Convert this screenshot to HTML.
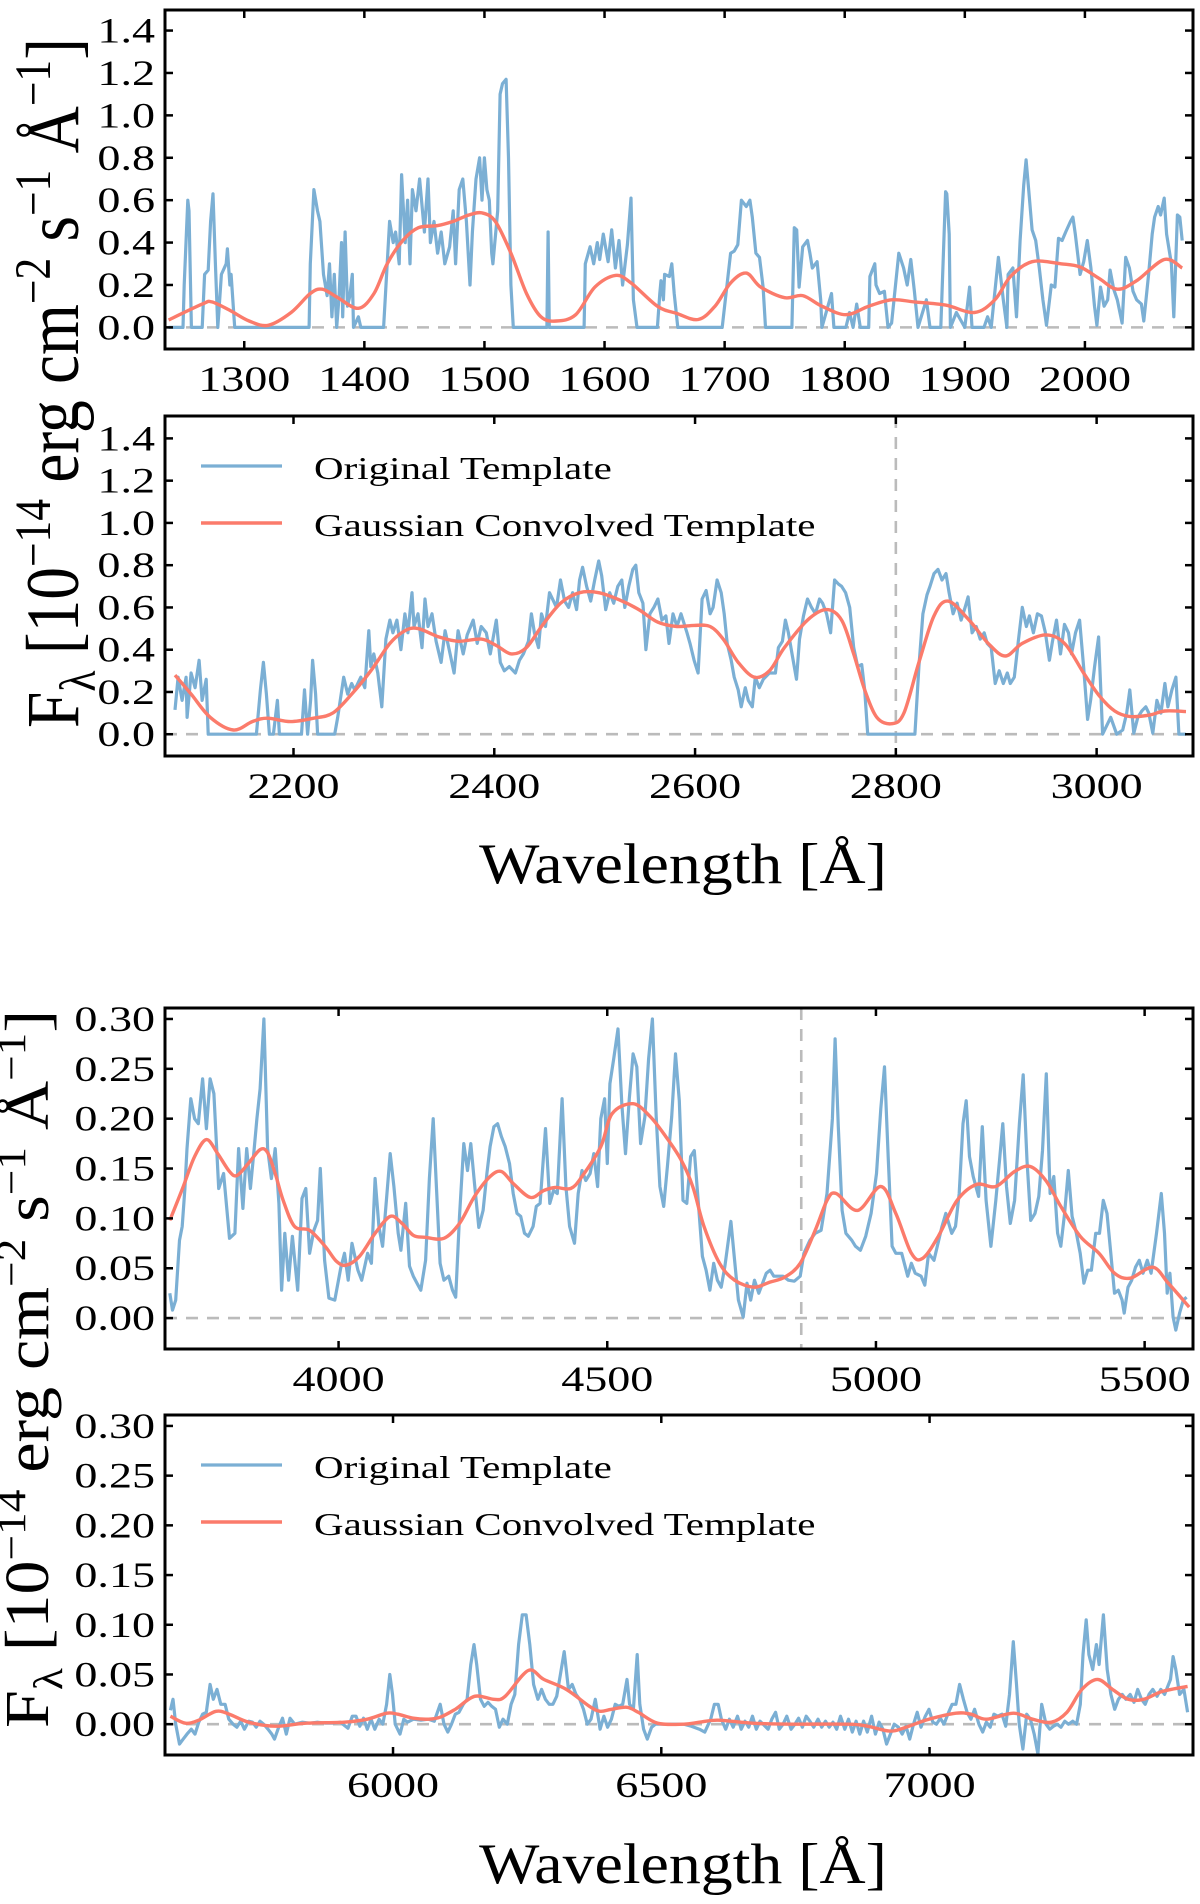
<!DOCTYPE html>
<html><head><meta charset="utf-8"><style>
html,body{margin:0;padding:0;background:#fff;}
svg{display:block;font-family:"Liberation Serif",serif;}
</style></head><body>
<svg id="fig" width="1200" height="1904" viewBox="0 0 1200 1904" xmlns="http://www.w3.org/2000/svg"></svg>
<script>
// ---- Panel 1 data ----
const p1BlueWl=[1237,1249,1250,1253,1254,1256,1265,1267,1270,1272,1274,1276,1278,1281,1285,1286,1288,1289,1292,1354,1355,1358,1361,1363,1366,1369,1371,1373,1375,1377,1379,1381,1382,1384,1386,1388,1390,1391,1395,1397,1416,1421,1424,1426,1429,1431,1434,1436,1438,1440,1443,1446,1450,1453,1455,1458,1461,1464,1467,1471,1474,1476,1479,1482,1485,1488,1490,1493,1496,1498,1500,1502,1504,1506,1507,1511,1513,1515,1518,1520,1522,1524,1552,1553,1554,1583,1584,1588,1591,1594,1596,1599,1603,1606,1609,1612,1615,1619,1622,1624,1627,1644,1646,1647,1649,1650,1654,1656,1658,1661,1698,1705,1708,1711,1714,1718,1721,1723,1726,1729,1732,1734,1756,1758,1760,1762,1765,1769,1771,1773,1777,1780,1781,1789,1791,1801,1804,1807,1810,1813,1820,1821,1825,1826,1829,1833,1836,1839,1845,1849,1852,1855,1858,1861,1868,1871,1880,1884,1885,1887,1888,1893,1900,1904,1906,1916,1919,1922,1928,1932,1935,1936,1940,1943,1946,1949,1951,1953,1956,1959,1962,1965,1968,1972,1975,1978,1981,1984,1988,1990,1992,1996,1999,2002,2005,2008,2010,2013,2016,2019,2021,2024,2027,2031,2034,2037,2040,2043,2047,2049,2053,2056,2058,2061,2063,2066,2068,2072,2074,2077,2079,2081];
const p1BlueFlux=[0,0,0.2,0.6,0.55,0,0,0.25,0.27,0.5,0.63,0.3,0,0.25,0.3,0.37,0.2,0.25,0,0,0.3,0.65,0.55,0.5,0.25,0.15,0.3,0.05,0.25,0,0.15,0.4,0.05,0.45,0.1,0.15,0.25,0,0.05,0,0,0.5,0.4,0.45,0.3,0.72,0.4,0.6,0.3,0.65,0.55,0.7,0.45,0.7,0.4,0.5,0.35,0.45,0.3,0.38,0.55,0.3,0.65,0.7,0.5,0.2,0.45,0.7,0.8,0.6,0.8,0.65,0.6,0.35,0.3,0.55,1.1,1.15,1.17,0.8,0.2,0,0,0.45,0,0,0.3,0.38,0.3,0.4,0.32,0.44,0.31,0.46,0.28,0.41,0.2,0.39,0.61,0.13,0,0,0.16,0.22,0.13,0.25,0.24,0.3,0.16,0,0,0.35,0.36,0.39,0.6,0.57,0.6,0.52,0.35,0.33,0.19,0,0,0.47,0.46,0.19,0.38,0.41,0.35,0.28,0.31,0.13,0,0.16,0,0,0.07,0,0.11,0,0,0.24,0.3,0.2,0.16,0.17,0,0.02,0.35,0.28,0.2,0.32,0.17,0,0.13,0,0,0.64,0.63,0.44,0,0.07,0,0.19,0,0,0.05,0,0.33,0.13,0,0.25,0.28,0.05,0.41,0.67,0.79,0.66,0.46,0.41,0.28,0.13,0.01,0.2,0.19,0.42,0.41,0.45,0.5,0.52,0.44,0.25,0.31,0.41,0.28,0.1,0.01,0.19,0.1,0.13,0.27,0.18,0.13,0.02,0.33,0.28,0.17,0.13,0.11,0.03,0.25,0.44,0.52,0.57,0.53,0.61,0.44,0.3,0.05,0.53,0.52,0.41];
const p1RedWl=[1237,1265,1273,1288,1304,1320,1339,1355,1365,1378,1395,1408,1419,1432,1445,1461,1474,1487,1498,1509,1522,1535,1547,1560,1576,1592,1609,1622,1644,1660,1678,1692,1705,1718,1730,1750,1765,1781,1801,1820,1839,1858,1884,1908,1925,1938,1956,1980,1996,2012,2027,2043,2066,2081];
const p1RedFlux=[0.035,0.11,0.12,0.08,0.03,0.01,0.07,0.16,0.18,0.14,0.09,0.16,0.30,0.41,0.47,0.48,0.50,0.53,0.54,0.50,0.35,0.16,0.05,0.03,0.06,0.19,0.245,0.21,0.10,0.066,0.037,0.10,0.21,0.256,0.19,0.14,0.15,0.10,0.06,0.10,0.13,0.12,0.105,0.07,0.13,0.24,0.31,0.30,0.285,0.23,0.18,0.22,0.32,0.28];
const p1XTicks=[1300,1400,1500,1600,1700,1800,1900,2000];
const p1YTicks=[0,0.2,0.4,0.6,0.8,1.0,1.2,1.4];
const p1YLabels=["0.0","0.2","0.4","0.6","0.8","1.0","1.2","1.4"];
// ---- Panel 2 data ----
const p2BlueWl=[2082,2085,2089,2093,2094,2098,2102,2106,2109,2113,2115,2163,2167,2170,2173,2176,2180,2184,2186,2208,2211,2214,2217,2219,2222,2224,2241,2244,2250,2254,2258,2261,2267,2271,2275,2277,2280,2284,2288,2292,2296,2299,2303,2307,2311,2314,2318,2320,2324,2328,2331,2334,2338,2342,2347,2351,2356,2360,2364,2369,2373,2379,2383,2387,2392,2396,2402,2406,2410,2415,2421,2425,2429,2434,2437,2440,2444,2447,2451,2455,2459,2462,2466,2470,2474,2478,2482,2485,2488,2492,2496,2500,2504,2507,2511,2515,2519,2523,2527,2530,2534,2538,2541,2544,2548,2551,2555,2559,2563,2567,2571,2574,2578,2582,2586,2592,2595,2599,2603,2607,2611,2615,2618,2622,2626,2629,2632,2636,2639,2643,2646,2650,2653,2657,2660,2664,2668,2674,2680,2683,2687,2690,2693,2697,2701,2704,2708,2712,2716,2720,2724,2727,2731,2735,2739,2743,2746,2750,2754,2758,2762,2766,2769,2772,2819,2823,2827,2831,2834,2838,2842,2846,2850,2853,2857,2861,2865,2869,2872,2876,2880,2884,2888,2891,2895,2899,2903,2907,2911,2914,2918,2922,2926,2930,2933,2937,2941,2945,2949,2953,2956,2960,2964,2968,2972,2975,2979,2983,2987,2991,2994,2998,3002,3006,3014,3020,3026,3030,3033,3037,3041,3045,3049,3052,3056,3060,3064,3068,3071,3075,3079,3082,3089];
const p2BlueFlux=[0.115,0.27,0.16,0.27,0.08,0.29,0.22,0.35,0.16,0.26,0,0,0.21,0.34,0.19,0,0,0.16,0,0,0.21,0,0.16,0.35,0.19,0,0,0.08,0.27,0.19,0.24,0.21,0.27,0.22,0.49,0.32,0.38,0.29,0.13,0.45,0.54,0.48,0.54,0.40,0.57,0.48,0.67,0.51,0.57,0.41,0.64,0.51,0.57,0.44,0.34,0.49,0.38,0.29,0.49,0.38,0.47,0.54,0.43,0.51,0.48,0.38,0.54,0.34,0.30,0.32,0.29,0.35,0.38,0.44,0.57,0.48,0.41,0.57,0.51,0.67,0.63,0.60,0.73,0.63,0.60,0.67,0.59,0.73,0.79,0.70,0.63,0.73,0.82,0.75,0.59,0.67,0.62,0.70,0.73,0.60,0.70,0.78,0.80,0.67,0.62,0.40,0.57,0.60,0.64,0.54,0.56,0.43,0.57,0.51,0.57,0.48,0.43,0.35,0.29,0.64,0.68,0.57,0.60,0.73,0.67,0.57,0.43,0.35,0.27,0.21,0.13,0.22,0.16,0.13,0.27,0.22,0.26,0.29,0.29,0.41,0.44,0.54,0.48,0.37,0.26,0.45,0.56,0.64,0.60,0.57,0.64,0.62,0.57,0.48,0.73,0.71,0.70,0.67,0.60,0.41,0.32,0.33,0.21,0,0,0.32,0.57,0.66,0.70,0.76,0.78,0.73,0.76,0.67,0.57,0.62,0.54,0.60,0.65,0.48,0.51,0.45,0.48,0.43,0.41,0.24,0.30,0.24,0.29,0.24,0.27,0.44,0.60,0.51,0.56,0.48,0.57,0.56,0.48,0.35,0.44,0.54,0.38,0.52,0.48,0.38,0.48,0.54,0.32,0.07,0.16,0.32,0.46,0,0.08,0,0.02,0.10,0.21,0.005,0.08,0.11,0.13,0.10,0.005,0.16,0.10,0.24,0.13,0.21,0.27,0,0];
const p2RedWl=[2082,2098,2117,2140,2159,2174,2197,2220,2239,2258,2277,2296,2311,2324,2345,2364,2387,2402,2417,2432,2447,2466,2485,2504,2525,2544,2563,2582,2599,2615,2628,2643,2659,2674,2689,2712,2731,2746,2758,2769,2781,2796,2808,2823,2838,2852,2873,2892,2909,2926,2949,2968,2987,3003,3018,3033,3052,3068,3089];
const p2RedFlux=[0.28,0.19,0.08,0.02,0.06,0.076,0.06,0.076,0.10,0.19,0.30,0.43,0.49,0.50,0.46,0.44,0.45,0.42,0.38,0.41,0.51,0.62,0.67,0.67,0.635,0.59,0.53,0.51,0.515,0.51,0.45,0.34,0.27,0.30,0.41,0.54,0.59,0.54,0.38,0.21,0.08,0.05,0.10,0.34,0.56,0.63,0.54,0.43,0.37,0.43,0.47,0.43,0.29,0.18,0.11,0.084,0.09,0.11,0.107];
const p2XTicks=[2200,2400,2600,2800,3000];
// ---- Panel 3 data ----
const p3BlueWl=[3686,3691,3697,3704,3709,3714,3718,3725,3732,3739,3747,3754,3761,3768,3777,3786,3797,3807,3814,3822,3829,3836,3843,3848,3854,3861,3868,3875,3882,3889,3894,3900,3907,3914,3924,3932,3939,3946,3954,3961,3966,3974,3982,3993,4004,4011,4018,4025,4036,4043,4054,4061,4068,4075,4082,4089,4096,4103,4111,4116,4125,4132,4139,4146,4153,4162,4169,4176,4182,4189,4196,4205,4212,4218,4225,4233,4240,4246,4253,4261,4269,4276,4282,4289,4296,4303,4310,4318,4325,4332,4339,4346,4353,4362,4368,4375,4385,4393,4400,4407,4416,4423,4430,4439,4446,4453,4460,4468,4475,4482,4488,4495,4500,4505,4512,4520,4527,4534,4541,4548,4555,4562,4570,4577,4584,4591,4598,4605,4612,4620,4627,4634,4641,4648,4655,4662,4670,4677,4684,4691,4698,4705,4712,4719,4730,4737,4744,4753,4760,4767,4774,4782,4789,4796,4803,4810,4817,4827,4837,4848,4859,4866,4877,4887,4898,4909,4919,4924,4930,4937,4944,4955,4962,4971,4981,4991,5001,5009,5016,5023,5030,5037,5048,5059,5066,5073,5084,5091,5098,5108,5123,5130,5141,5148,5155,5162,5168,5174,5181,5191,5198,5205,5214,5223,5230,5236,5243,5250,5258,5267,5274,5281,5288,5296,5303,5310,5317,5324,5331,5338,5344,5351,5358,5365,5373,5380,5387,5394,5401,5409,5416,5423,5430,5437,5444,5451,5458,5462,5469,5476,5483,5490,5497,5505,5512,5522,5531,5537,5542,5547,5553,5558,5565,5572,5578];
const p3BlueFlux=[0.025,0.008,0.018,0.078,0.092,0.13,0.17,0.22,0.20,0.195,0.24,0.19,0.24,0.225,0.13,0.145,0.08,0.085,0.17,0.11,0.17,0.13,0.17,0.20,0.23,0.30,0.17,0.14,0.17,0.115,0.028,0.085,0.038,0.082,0.028,0.12,0.13,0.065,0.088,0.098,0.15,0.058,0.02,0.018,0.05,0.065,0.038,0.075,0.048,0.038,0.065,0.055,0.14,0.092,0.072,0.118,0.165,0.132,0.085,0.068,0.115,0.052,0.042,0.035,0.028,0.058,0.14,0.20,0.132,0.055,0.038,0.042,0.028,0.021,0.102,0.175,0.148,0.175,0.135,0.091,0.108,0.145,0.172,0.192,0.195,0.182,0.172,0.155,0.125,0.105,0.102,0.085,0.082,0.092,0.112,0.115,0.19,0.115,0.128,0.125,0.22,0.132,0.092,0.075,0.125,0.148,0.138,0.145,0.165,0.132,0.20,0.22,0.155,0.235,0.26,0.29,0.215,0.165,0.22,0.265,0.252,0.175,0.202,0.26,0.30,0.202,0.132,0.112,0.152,0.202,0.265,0.218,0.118,0.115,0.162,0.168,0.112,0.062,0.048,0.028,0.055,0.038,0.031,0.052,0.097,0.058,0.018,0.001,0.035,0.018,0.038,0.025,0.035,0.045,0.048,0.042,0.042,0.042,0.038,0.037,0.042,0.065,0.078,0.085,0.088,0.125,0.20,0.28,0.192,0.108,0.085,0.078,0.072,0.068,0.082,0.105,0.145,0.21,0.252,0.159,0.072,0.065,0.065,0.042,0.055,0.045,0.042,0.033,0.065,0.058,0.092,0.105,0.085,0.092,0.125,0.195,0.218,0.162,0.142,0.122,0.192,0.118,0.072,0.118,0.158,0.195,0.132,0.095,0.118,0.195,0.244,0.158,0.098,0.105,0.122,0.168,0.245,0.125,0.142,0.085,0.072,0.105,0.148,0.102,0.085,0.065,0.035,0.048,0.048,0.085,0.085,0.118,0.105,0.065,0.025,0.028,0.018,0.005,0.031,0.038,0.051,0.058,0.045,0.058,0.045,0.085,0.125,0.085,0.025,0.045,0.001,-0.012,0.005,0.018,0.021];
const p3RedWl=[3686,3711,3732,3754,3775,3797,3811,3832,3854,3868,3882,3897,3918,3946,3975,3996,4014,4039,4068,4096,4118,4139,4161,4196,4225,4253,4282,4303,4325,4357,4382,4403,4432,4453,4488,4509,4548,4580,4609,4637,4659,4680,4709,4737,4773,4802,4830,4859,4887,4909,4926,4966,5009,5037,5066,5087,5116,5151,5187,5223,5258,5287,5316,5344,5380,5415,5444,5473,5515,5544,5583];
const p3RedFlux=[0.098,0.132,0.162,0.179,0.165,0.147,0.143,0.155,0.169,0.166,0.145,0.118,0.092,0.088,0.072,0.057,0.053,0.062,0.085,0.102,0.095,0.083,0.081,0.08,0.095,0.122,0.142,0.147,0.135,0.121,0.128,0.131,0.13,0.142,0.172,0.205,0.215,0.202,0.182,0.159,0.132,0.092,0.055,0.038,0.031,0.036,0.041,0.055,0.088,0.118,0.125,0.108,0.132,0.105,0.065,0.06,0.082,0.118,0.134,0.132,0.147,0.152,0.138,0.112,0.082,0.065,0.045,0.04,0.051,0.035,0.011];
const p3XTicks=[4000,4500,5000,5500];
const p3YTicks=[0,0.05,0.10,0.15,0.20,0.25,0.30];
const p3YLabels=["0.00","0.05","0.10","0.15","0.20","0.25","0.30"];
// ---- Panel 4 data ----
const p4BlueWl=[5585,5590,5595,5602,5609,5616,5624,5631,5638,5645,5652,5659,5665,5672,5679,5687,5694,5702,5709,5716,5723,5731,5738,5745,5752,5759,5767,5774,5779,5787,5794,5801,5808,5817,5831,5845,5859,5874,5888,5902,5916,5924,5931,5938,5945,5952,5959,5966,5974,5981,5988,5994,5999,6004,6013,6020,6027,6038,6052,6066,6077,6088,6095,6102,6109,6116,6123,6131,6138,6145,6151,6156,6163,6170,6177,6184,6191,6198,6205,6213,6220,6227,6234,6241,6248,6255,6262,6270,6277,6284,6291,6298,6305,6312,6319,6327,6334,6341,6348,6355,6362,6369,6377,6386,6393,6400,6407,6414,6421,6428,6436,6441,6448,6455,6460,6467,6474,6482,6489,6499,6514,6528,6542,6556,6571,6581,6592,6599,6606,6612,6620,6627,6634,6642,6649,6656,6663,6670,6677,6684,6699,6706,6713,6720,6727,6734,6742,6749,6756,6763,6770,6777,6784,6792,6799,6806,6813,6820,6827,6834,6842,6849,6856,6863,6870,6877,6884,6892,6899,6906,6913,6920,6927,6934,6942,6949,6956,6963,6970,6977,6984,6992,6999,7006,7013,7020,7027,7034,7042,7049,7056,7063,7070,7077,7084,7092,7099,7106,7113,7120,7127,7135,7142,7149,7156,7162,7167,7174,7181,7188,7195,7202,7209,7217,7224,7231,7238,7245,7252,7259,7267,7274,7281,7286,7292,7297,7304,7311,7316,7324,7331,7338,7345,7352,7359,7366,7374,7381,7388,7395,7402,7409,7416,7424,7431,7438,7449,7454,7459,7466,7474,7481];
const p4BlueFlux=[0.014,0.025,0.0,-0.02,-0.015,-0.01,-0.005,-0.01,0.002,0.01,0.012,0.04,0.025,0.035,0.02,0.02,0.005,0,-0.003,0.003,-0.005,0.003,0.002,-0.003,0.003,0,-0.005,-0.01,-0.015,-0.003,0.006,-0.01,0.006,0,0.002,0.001,0.002,0.001,0.001,0.002,-0.004,0.008,0.008,-0.002,0.006,-0.005,0.005,-0.005,0.005,0,0.02,0.05,0.03,0,-0.01,0.005,0.002,0.005,0.004,0.005,0.003,0.02,0,-0.008,0,0.01,0.012,0.02,0.025,0.06,0.08,0.06,0.025,0.018,0.022,0.018,0.015,-0.003,0.005,0,0.02,0.03,0.08,0.11,0.11,0.08,0.04,0.025,0.035,0.025,0.02,0.02,0.028,0.05,0.073,0.035,0.04,0.03,0.025,0.015,0,0.005,0.025,-0.005,0.008,-0.003,0.005,0.02,0.018,0.02,0.045,0.02,0.015,0.07,0.02,-0.005,-0.015,-0.003,0,0,0,0,0,-0.002,-0.005,-0.008,0.005,0.02,0.02,0.005,-0.005,0.005,-0.003,0.008,-0.005,0.003,-0.003,0.008,-0.005,0.003,-0.005,0.005,0.012,-0.005,0,0.008,-0.005,0,0.006,-0.003,0.008,0.003,-0.003,0.005,-0.003,0.003,-0.003,0.002,-0.005,0.008,-0.005,0.005,-0.008,0.003,-0.01,0.003,-0.008,0.008,-0.01,0.002,-0.005,-0.02,-0.01,0,-0.003,-0.01,-0.002,-0.015,0,0.012,-0.003,0.008,0.015,0.002,0,0.006,0,0.01,0.02,0.02,0.04,0.025,0.012,0.005,0.015,0,-0.008,0.002,-0.003,0.01,0.008,0.01,-0.002,0.03,0.083,0.04,0,-0.025,0.01,0.005,-0.01,-0.03,0.02,0,-0.005,-0.002,0,-0.003,0.003,0,0.003,0,0.02,0.07,0.105,0.07,0.055,0.08,0.06,0.11,0.055,0.03,0.015,0.025,0.03,0.025,0.03,0.022,0.035,0.025,0.02,0.03,0.035,0.028,0.035,0.03,0.045,0.068,0.055,0.03,0.035,0.012];
const p4RedWl=[5585,5613,5638,5670,5695,5731,5781,5838,5909,5952,5988,6009,6038,6066,6088,6116,6152,6188,6209,6252,6281,6323,6366,6386,6407,6436,6457,6493,6542,6571,6606,6670,6742,6849,6884,6927,6956,6999,7049,7077,7106,7156,7192,7227,7256,7284,7313,7341,7370,7399,7434,7481];
const p4RedFlux=[0.008,0.001,0.004,0.013,0.01,0.002,-0.002,0.001,0.002,0.005,0.011,0.01,0.006,0.005,0.007,0.015,0.028,0.025,0.028,0.054,0.045,0.035,0.018,0.013,0.015,0.017,0.012,0.001,0,0.002,0.004,0.001,0,0,-0.002,-0.007,-0.003,0.005,0.011,0.01,0.005,0.011,0.005,0.002,0.012,0.035,0.045,0.035,0.025,0.025,0.033,0.038];
const p4XTicks=[6000,6500,7000];

const NS="http://www.w3.org/2000/svg";
const svg=document.getElementById('fig');
const BLUE="#7bafd4", RED="#fb7b6b", GRAY="#bbbbbb";
const SX=1.28;
function mk(tag,attrs,parent){const e=document.createElementNS(NS,tag);for(const k in attrs)e.setAttribute(k,attrs[k]);(parent||svg).appendChild(e);return e;}
function stretchedText(parent,x,y,anchor,size,str,sx){const t=mk('text',{transform:'translate('+x+','+y+') scale('+sx+',1)','text-anchor':anchor,'font-size':size},parent);t.textContent=str;return t;}
function linePath(xs,ys,sx,sy){let d="";for(let i=0;i<xs.length;i++){d+=(i?"L":"M")+sx(xs[i]).toFixed(1)+","+sy(ys[i]).toFixed(1);}return d;}
function smoothPath(xs,ys,sx,sy){const P=xs.map((x,i)=>[sx(x),sy(ys[i])]);let d="M"+P[0][0].toFixed(1)+","+P[0][1].toFixed(1);
 for(let i=0;i<P.length-1;i++){const p0=P[Math.max(0,i-1)],p1=P[i],p2=P[i+1],p3=P[Math.min(P.length-1,i+2)];
 const c1=[p1[0]+(p2[0]-p0[0])/6,p1[1]+(p2[1]-p0[1])/6],c2=[p2[0]-(p3[0]-p1[0])/6,p2[1]-(p3[1]-p1[1])/6];
 d+="C"+c1[0].toFixed(1)+","+c1[1].toFixed(1)+" "+c2[0].toFixed(1)+","+c2[1].toFixed(1)+" "+p2[0].toFixed(1)+","+p2[1].toFixed(1);}return d;}

function panel(cfg){
 const {id,L,R,T,B,x0,x1,y0,y1}=cfg;
 const sx=v=>L+(v-x0)/(x1-x0)*(R-L);
 const sy=v=>B-(v-y0)/(y1-y0)*(B-T);
 const g=mk('g',{});
 
 
 const cid='clip-'+id;
 const cp=mk('clipPath',{id:cid},g);mk('rect',{x:L,y:T,width:R-L,height:B-T},cp);
 const plot=mk('g',{'clip-path':'url(#'+cid+')'},g);
 const zl=mk('line',{x1:L,x2:R,y1:sy(0),y2:sy(0),stroke:GRAY,'stroke-width':2.6,'stroke-dasharray':'12,9'},plot);
 
 
 if(cfg.vline!==undefined){const vl=mk('line',{x1:sx(cfg.vline),x2:sx(cfg.vline),y1:T,y2:B,stroke:GRAY,'stroke-width':2.6,'stroke-dasharray':'12,9'},plot);
  
  }
 const bl=mk('path',{d:linePath(cfg.bw,cfg.bf,sx,sy),fill:'none',stroke:BLUE,'stroke-width':3.2,'stroke-linejoin':'round'},plot);
 
 
 const rl=mk('path',{d:smoothPath(cfg.rw,cfg.rf,sx,sy),fill:'none',stroke:RED,'stroke-width':3.4},plot);
 
 
 cfg.xt.forEach(t=>{const x=sx(t);
  mk('line',{x1:x,x2:x,y1:B,y2:B-8,stroke:'#000','stroke-width':2.5},g);
  mk('line',{x1:x,x2:x,y1:T,y2:T+8,stroke:'#000','stroke-width':2.5},g);
  const tx=stretchedText(g,x,B+42,'middle',36,String(t),SX);
  
  });
 cfg.yt.forEach((t,i)=>{const y=sy(t);
  mk('line',{x1:L,x2:L+8,y1:y,y2:y,stroke:'#000','stroke-width':2.5},g);
  mk('line',{x1:R,x2:R-8,y1:y,y2:y,stroke:'#000','stroke-width':2.5},g);
  const ty=stretchedText(g,155,y+12,'end',36,cfg.yl[i],SX);
  
  });
 const fr=mk('rect',{x:L,y:T,width:R-L,height:B-T,fill:'none',stroke:'#000','stroke-width':3},g);
 
 
 if(cfg.legend){const ly=T+50;
  const lg=mk('g',{},g);
  
  
  mk('line',{x1:201,x2:282,y1:ly,y2:ly,stroke:BLUE,'stroke-width':3.2},lg);
  const t1=stretchedText(lg,314,ly+13,'start',32,'Original Template',SX);
  
  
  mk('line',{x1:201,x2:282,y1:ly+57,y2:ly+57,stroke:RED,'stroke-width':3.4},lg);
  const t2=stretchedText(lg,314,ly+70,'start',32,'Gaussian Convolved Template',SX);
  
  }
}
panel({id:'panel-uv-1',L:165,R:1193,T:10,B:349,x0:1234,x1:2090,y0:-0.102,y1:1.497,bw:p1BlueWl,bf:p1BlueFlux,rw:p1RedWl,rf:p1RedFlux,xt:p1XTicks,yt:p1YTicks,yl:p1YLabels});
panel({id:'panel-uv-2',L:165,R:1193,T:416,B:756,x0:2072,x1:3096,y0:-0.103,y1:1.506,bw:p2BlueWl,bf:p2BlueFlux,rw:p2RedWl,rf:p2RedFlux,xt:p2XTicks,yt:p1YTicks,yl:p1YLabels,vline:2800,legend:true});
panel({id:'panel-opt-1',L:165,R:1193,T:1008,B:1349,x0:3677,x1:5590,y0:-0.031,y1:0.311,bw:p3BlueWl,bf:p3BlueFlux,rw:p3RedWl,rf:p3RedFlux,xt:p3XTicks,yt:p3YTicks,yl:p3YLabels,vline:4861});
panel({id:'panel-opt-2',L:165,R:1193,T:1415,B:1755,x0:5575,x1:7491,y0:-0.031,y1:0.311,bw:p4BlueWl,bf:p4BlueFlux,rw:p4RedWl,rf:p4RedFlux,xt:p4XTicks,yt:p3YTicks,yl:p3YLabels,legend:true});

function xlabel(y){const t=stretchedText(svg,683,y,'middle',57,'Wavelength [Å]',1.12);
 
 }
xlabel(883);xlabel(1883);
function ylabel(bx,cy,s,len){const t=mk('text',{transform:'translate('+bx+','+cy+') scale('+s+',1) rotate(-90)','text-anchor':'middle','font-size':54,textLength:len,lengthAdjust:'spacingAndGlyphs'});
 
 
 t.innerHTML='F<tspan font-size="36" dy="12">λ</tspan><tspan dy="-12"> [10</tspan><tspan font-size="36" dy="-20">−14</tspan><tspan dy="20"> erg cm</tspan><tspan font-size="36" dy="-20">−2</tspan><tspan dy="20"> s</tspan><tspan font-size="36" dy="-20">−1</tspan><tspan dy="20"> Å</tspan><tspan font-size="36" dy="-20">−1</tspan><tspan dy="20">]</tspan>';}
ylabel(78,383,1.4,690);
ylabel(48,1369,1.15,718);
</script>
</body></html>
